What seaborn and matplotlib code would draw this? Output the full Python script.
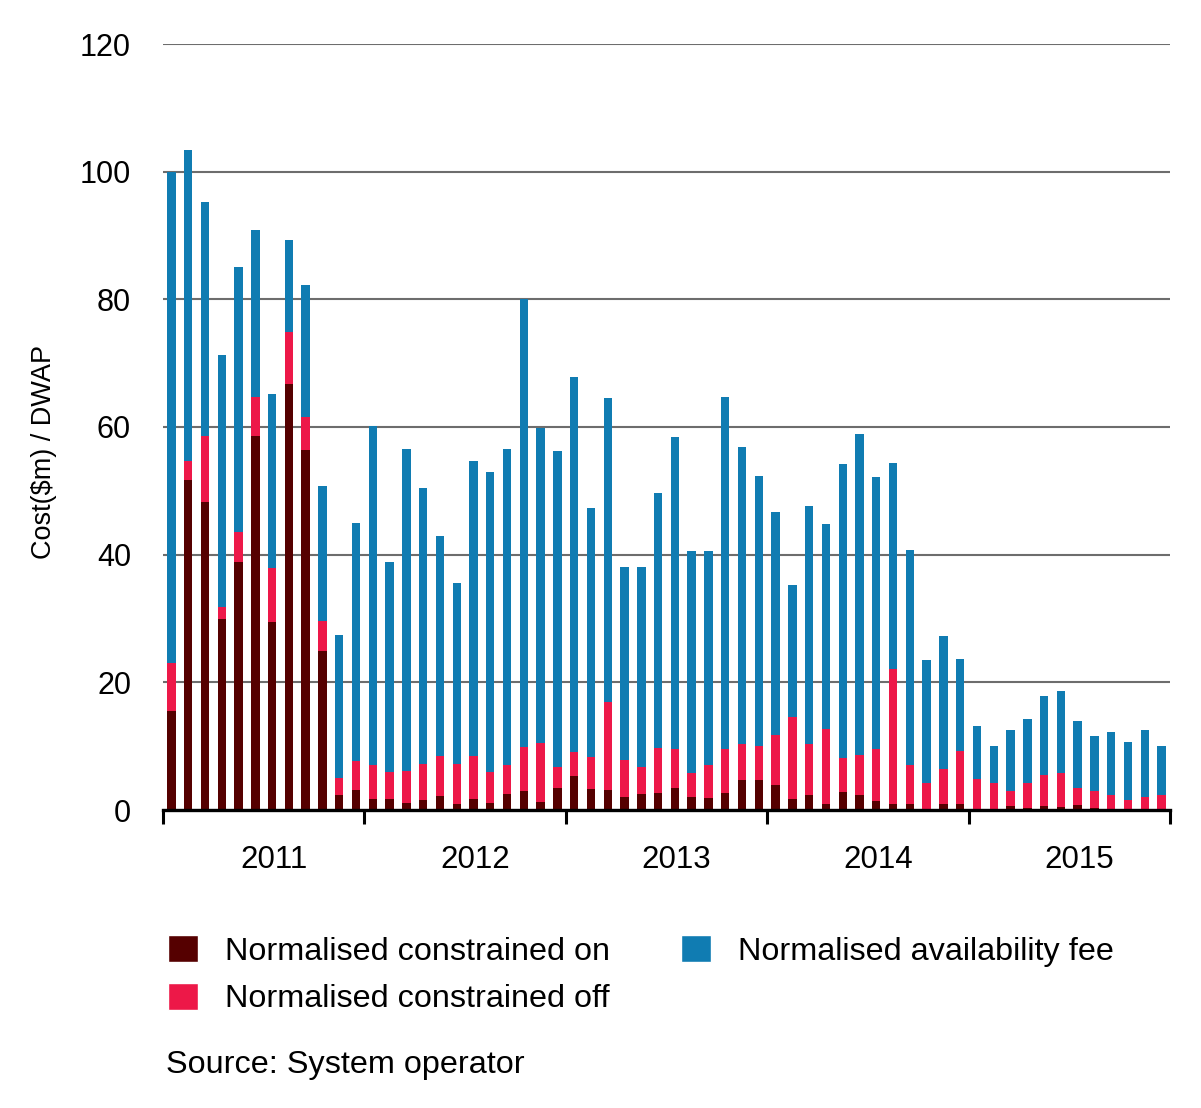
import numpy as np
import pandas as pd
import matplotlib.pyplot as plt
import seaborn as sns
from matplotlib.patches import Patch

# monthly values, Jan 2011 - Dec 2015
years = ['2011', '2012', '2013', '2014', '2015']
months = [f'{y}-{m:02d}' for y in years for m in range(1, 13)]

constrained_on = [
    15.5, 51.7, 48.2, 29.9, 38.9, 58.6, 29.5, 66.7, 56.4, 24.9, 2.4, 3.1,
    1.7, 1.8, 1.1, 1.5, 2.2, 0.9, 1.7, 1.1, 2.5, 2.9, 1.3, 3.4,
    5.3, 3.3, 3.1, 2.0, 2.5, 2.7, 3.4, 2.0, 1.9, 2.7, 4.7, 4.7,
    3.9, 1.7, 2.4, 1.0, 2.8, 2.3, 1.4, 1.0, 0.9, 0.0, 0.9, 0.9,
    0.0, 0.0, 0.6, 0.3, 0.6, 0.5, 0.8, 0.3, 0.0, 0.0, 0.0, 0.0,
]
constrained_off = [
    7.5, 2.9, 10.4, 1.9, 4.7, 6.1, 8.4, 8.2, 5.1, 4.7, 2.6, 4.5,
    5.3, 4.2, 5.0, 5.7, 6.3, 6.3, 6.8, 4.9, 4.5, 6.9, 9.2, 3.3,
    3.8, 5.0, 13.8, 5.8, 4.3, 7.0, 6.2, 3.8, 5.2, 6.9, 5.6, 5.3,
    7.8, 12.8, 7.9, 11.7, 5.3, 6.3, 8.1, 21.1, 6.1, 4.3, 5.5, 8.3,
    4.8, 4.3, 2.3, 4.0, 4.9, 5.3, 2.7, 2.7, 2.4, 1.6, 2.0, 2.3,
]
availability_fee = [
    77.0, 48.8, 36.6, 39.5, 41.5, 26.1, 27.3, 14.4, 20.8, 21.1, 22.4, 37.4,
    53.2, 32.8, 50.5, 43.3, 34.4, 28.3, 46.2, 46.9, 49.5, 70.2, 49.4, 49.5,
    58.7, 39.0, 47.6, 30.2, 31.2, 40.0, 48.8, 34.8, 33.5, 55.1, 46.6, 42.3,
    35.0, 20.8, 37.3, 32.1, 46.1, 50.3, 42.6, 32.2, 33.7, 19.2, 20.9, 14.5,
    8.3, 5.7, 9.6, 9.9, 12.4, 12.9, 10.4, 8.6, 9.8, 9.0, 10.5, 7.7,
]

dark_red = '#550000'
pink = '#ED1848'
blue = '#107CB2'

df = pd.DataFrame({'month': months, 'on': constrained_on,
                   'off': constrained_off, 'fee': availability_fee})
df['on_off'] = df['on'] + df['off']
df['total'] = df['on_off'] + df['fee']

sns.set_theme(style='white')
plt.rcParams['font.family'] = ['Liberation Sans', 'DejaVu Sans']
plt.rcParams['text.color'] = 'black'

W, H = 1201, 1108
fig = plt.figure(figsize=(W / 100, H / 100), dpi=100)
ax = fig.add_axes([163 / W, 298 / H, 1007 / W, 766 / H])

# stacked bars: draw cumulative totals back to front
for col, c in [('total', blue), ('on_off', pink), ('on', dark_red)]:
    sns.barplot(data=df, x='month', y=col, color=c, order=months, width=0.5,
                saturation=1, linewidth=0, errorbar=None, ax=ax)

ax.set_xlim(-0.5, len(months) - 0.5)
ax.set_ylim(0, 120)
ax.set_yticks(range(0, 121, 20))
ax.yaxis.grid(True, color='#6d6d6d', linewidth=1.5)
ax.set_axisbelow(True)

# year labels (sit around July), boundary ticks between years
ax.set_xticks([12 * i + 6.1 for i in range(len(years))])
ax.set_xticklabels(years)
ax.set_xticks([12 * i - 0.5 for i in range(len(years) + 1)], minor=True)
ax.tick_params(axis='x', which='major', length=0, pad=25, labelsize=22.5, colors='black')
ax.tick_params(axis='x', which='minor', length=10, width=2.2, color='black', bottom=True)
ax.tick_params(axis='y', length=0, pad=23, labelsize=22, colors='black')

for s in ['top', 'left', 'right']:
    ax.spines[s].set_visible(False)
ax.spines['bottom'].set_color('black')
ax.spines['bottom'].set_linewidth(2.4)
ax.spines['bottom'].set_zorder(5)

ax.set_xlabel('')
ax.set_ylabel('Cost($m) / DWAP', fontsize=19.5, color='black', va='center')
ax.yaxis.set_label_coords((44 - 163) / 1007, (810 - 452) / 766)

handles = [Patch(facecolor=dark_red, label='Normalised constrained on'),
           Patch(facecolor=pink, label='Normalised constrained off'),
           Patch(facecolor=blue, label='Normalised availability fee')]
fig.legend(handles=handles, loc='upper left', bbox_to_anchor=(168 / W, 1 - 935 / H),
           ncol=2, frameon=False, fontsize=23.3, handlelength=0.92, handleheight=0.9,
           handletextpad=0.85, columnspacing=2.18, labelspacing=0.5,
           borderpad=0, borderaxespad=0)

fig.text(166 / W, 1 - 1065 / H, 'Source: System operator', fontsize=23.3, va='center')

fig.savefig('out.png', dpi=100)
